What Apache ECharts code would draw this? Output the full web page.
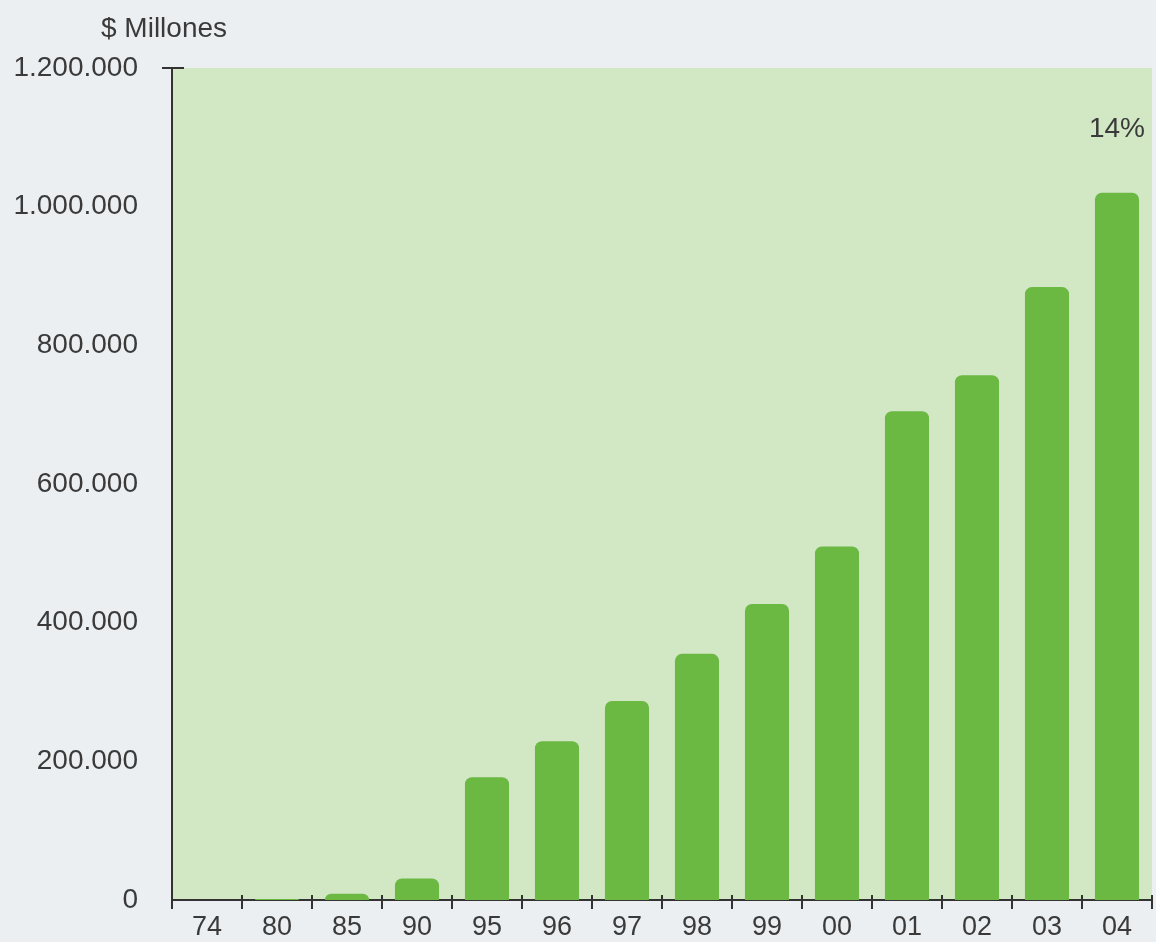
<!DOCTYPE html>
<html><head><meta charset="utf-8">
<script src="https://cdn.jsdelivr.net/npm/echarts@6/dist/echarts.min.js"></script>
<style>html,body{margin:0;padding:0;background:#eceff2;}#c{width:1156px;height:942px;}</style>
</head><body><div id="c"></div>
<script>
const categories = ['74','80','85','90','95','96','97','98','99','00','01','02','03','04'];
const values = [0, 1500, 9000, 31000, 177000, 229000, 287000, 355000, 427000, 510000, 705000, 757000, 884000, 1020000];
const yTicks = [0, 200000, 400000, 600000, 800000, 1000000, 1200000];
const lastLabel = '14%';
const unitTitle = '$ Millones';

function fmt(v){ return String(v).replace(/\B(?=(\d{3})+(?!\d))/g, '.'); }

const chart = echarts.init(document.getElementById('c'));
const textColor = '#3a3a3a';
const fontFam = 'Liberation Sans, Arial, sans-serif';
chart.setOption({
  animation: false,
  backgroundColor: '#eceff2',
  title: { text: unitTitle, left: 96, top: 10, textStyle: { fontFamily: fontFam, fontWeight: 'normal', fontSize: 28, color: textColor } },
  grid: { left: 172, right: 4, top: 68, bottom: 42, show: true, backgroundColor: '#d2e7c4', borderWidth: 0 },
  xAxis: [{
    type: 'category', data: categories,
    axisLine: { lineStyle: { color: '#333', width: 2 } },
    axisTick: { show: true, alignWithLabel: false, length: 9, lineStyle: { color: '#333', width: 2 } },
    axisLabel: { fontFamily: fontFam, fontSize: 27, color: textColor, margin: 14 }
  }, {
    type: 'category', data: categories, position: 'bottom',
    axisLine: { show: false },
    axisTick: { show: true, inside: true, length: 5, lineStyle: { color: '#333', width: 2 } },
    axisLabel: { show: false }
  }],
  yAxis: {
    type: 'value', min: yTicks[0], max: yTicks[yTicks.length-1], interval: 200000,
    axisLine: { show: true, lineStyle: { color: '#333', width: 2 } },
    axisTick: { show: false },
    splitLine: { show: false },
    axisLabel: { fontFamily: fontFam, fontSize: 28, color: textColor, margin: 34, formatter: v => fmt(v) }
  },
  series: [{
    type: 'bar', barWidth: '63%', xAxisIndex: 0,
    itemStyle: { color: '#6bb843', borderRadius: [7,7,0,0] },
    data: values.map((v,i) => i === values.length-1 ? { value: v, label: { show: true, position: 'top', distance: 50, formatter: lastLabel, fontFamily: fontFam, fontSize: 28, color: textColor } } : v)
  }]
});
// small top tick on the y axis
const topY = chart.convertToPixel({ yAxisIndex: 0 }, yTicks[yTicks.length-1]);
chart.setOption({ graphic: [{ type: 'line', shape: { x1: 162, y1: topY, x2: 184, y2: topY }, style: { stroke: '#333', lineWidth: 2 } }] });
</script></body></html>
